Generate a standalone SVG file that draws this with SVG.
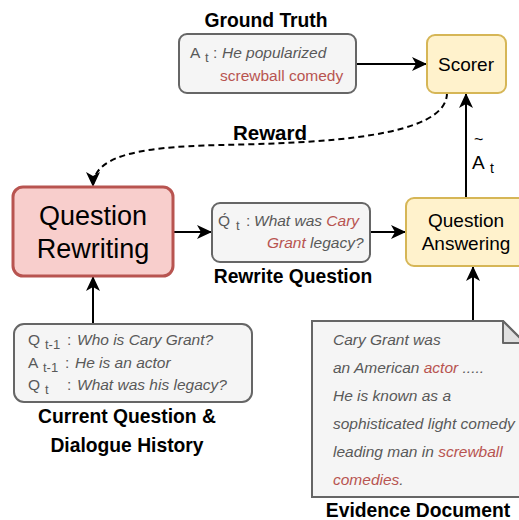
<svg xmlns="http://www.w3.org/2000/svg" width="519" height="520" viewBox="0 0 519 520">
<style>
text{font-family:"Liberation Sans",Arial,sans-serif}
.lbl{font-size:19.3px;font-weight:bold;fill:#000;text-anchor:middle}
.t{font-size:15.5px;fill:#595959}
.it{font-style:italic}
.red{fill:#b85450}
.sub{font-size:13px;fill:#595959}
.grey{fill:#f5f5f5;stroke:#666666;stroke-width:2}
.yel{fill:#fff2cc;stroke:#d6b656;stroke-width:2}
.edge{fill:none;stroke:#000;stroke-width:2}
</style>
<defs>
<marker id="ah" markerUnits="userSpaceOnUse" viewBox="0 0 15 14" markerWidth="15" markerHeight="14" refX="15" refY="7" orient="auto">
<path d="M0,0 L15,7 L0,14 L4,7 Z" fill="#000"/>
</marker>
</defs>

<g id="connectors">
<path class="edge" d="M356,64 H427" marker-end="url(#ah)"/>
<path class="edge" d="M466,198 V93" marker-end="url(#ah)"/>
<path class="edge" d="M173,232 H212" marker-end="url(#ah)"/>
<path class="edge" d="M370,232 H406" marker-end="url(#ah)"/>
<path class="edge" d="M93,324 V276" marker-end="url(#ah)"/>
<path class="edge" d="M473,321 V266" marker-end="url(#ah)"/>
<path class="edge" stroke-dasharray="6 4" d="M447,93 C447,138 320,143 220,145 C130,147 93,158 93,187" marker-end="url(#ah)"/>
<text class="lbl" x="270" y="140" style="font-size:20.5px">Reward</text>
<text x="474" y="145" style="font-size:16px;fill:#000">~</text>
<text x="472" y="169" style="font-size:19px;fill:#000">A</text>
<text x="490" y="173" style="font-size:14px;fill:#000">t</text>
</g>

<g id="ground-truth">
<text class="lbl" x="266" y="27">Ground Truth</text>
<rect class="grey" x="179" y="34" width="177" height="59" rx="8"/>
<text class="t" x="190" y="58">A</text>
<text class="sub" x="205" y="62">t</text>
<text class="t" x="213" y="58">:</text>
<text class="t it" x="222" y="58">He popularized</text>
<text class="t red" x="220" y="81">screwball comedy</text>
</g>

<g id="scorer">
<rect class="yel" x="427" y="35" width="79" height="58" rx="8"/>
<text x="466" y="71" style="font-size:19px;fill:#000;text-anchor:middle">Scorer</text>
</g>

<g id="question-rewriting">
<rect x="13" y="187" width="160" height="89" rx="10" fill="#f8cecc" stroke="#b85450" stroke-width="3"/>
<text x="93" y="225" style="font-size:27px;fill:#000;text-anchor:middle">Question</text>
<text x="93" y="258" style="font-size:27px;fill:#000;text-anchor:middle">Rewriting</text>
</g>

<g id="rewrite-question">
<rect class="grey" x="212" y="203" width="158" height="59" rx="8"/>
<text class="t" x="218" y="226">Q́</text>
<text class="sub" x="236" y="230">t</text>
<text class="t" x="246" y="226">:</text>
<text class="t it" x="254" y="226">What was <tspan class="red">Cary</tspan></text>
<text class="t it" x="267" y="248"><tspan class="red">Grant</tspan> legacy?</text>
<text class="lbl" x="293" y="283">Rewrite Question</text>
</g>

<g id="question-answering">
<rect class="yel" x="406" y="198" width="120" height="68" rx="8"/>
<text x="466" y="227" style="font-size:19px;fill:#000;text-anchor:middle">Question</text>
<text x="466" y="250" style="font-size:19px;fill:#000;text-anchor:middle">Answering</text>
</g>

<g id="dialogue-history">
<rect class="grey" x="14" y="324" width="238" height="78" rx="10"/>
<text class="t" x="28" y="345">Q</text>
<text class="sub" x="45" y="349">t-1</text>
<text class="t" x="67" y="345">:</text>
<text class="t it" x="77" y="345">Who is Cary Grant?</text>
<text class="t" x="28" y="368">A</text>
<text class="sub" x="43" y="372">t-1</text>
<text class="t" x="65" y="368">:</text>
<text class="t it" x="75" y="368">He is an actor</text>
<text class="t" x="28" y="390">Q</text>
<text class="sub" x="45" y="394">t</text>
<text class="t" x="67" y="390">:</text>
<text class="t it" x="77" y="390">What was his legacy?</text>
<text class="lbl" x="127" y="423">Current Question &amp;</text>
<text class="lbl" x="127" y="452">Dialogue History</text>
</g>

<g id="evidence-document">
<path class="grey" d="M312,321 H503 L525,343 V497 H312 Z"/>
<path d="M503,321 V343 H525 Z" fill="#e0e0e0" stroke="#666666" stroke-width="2" stroke-linejoin="round"/>
<text class="t it" x="333" y="345">Cary Grant was</text>
<text class="t it" x="333" y="373">an American <tspan class="red">actor</tspan> .....</text>
<text class="t it" x="333" y="401">He is known as a</text>
<text class="t it" x="333" y="429">sophisticated light comedy</text>
<text class="t it" x="333" y="457">leading man in <tspan class="red">screwball</tspan></text>
<text class="t it" x="333" y="485"><tspan class="red">comedies</tspan>.</text>
<text class="lbl" x="418" y="517">Evidence Document</text>
</g>
</svg>
